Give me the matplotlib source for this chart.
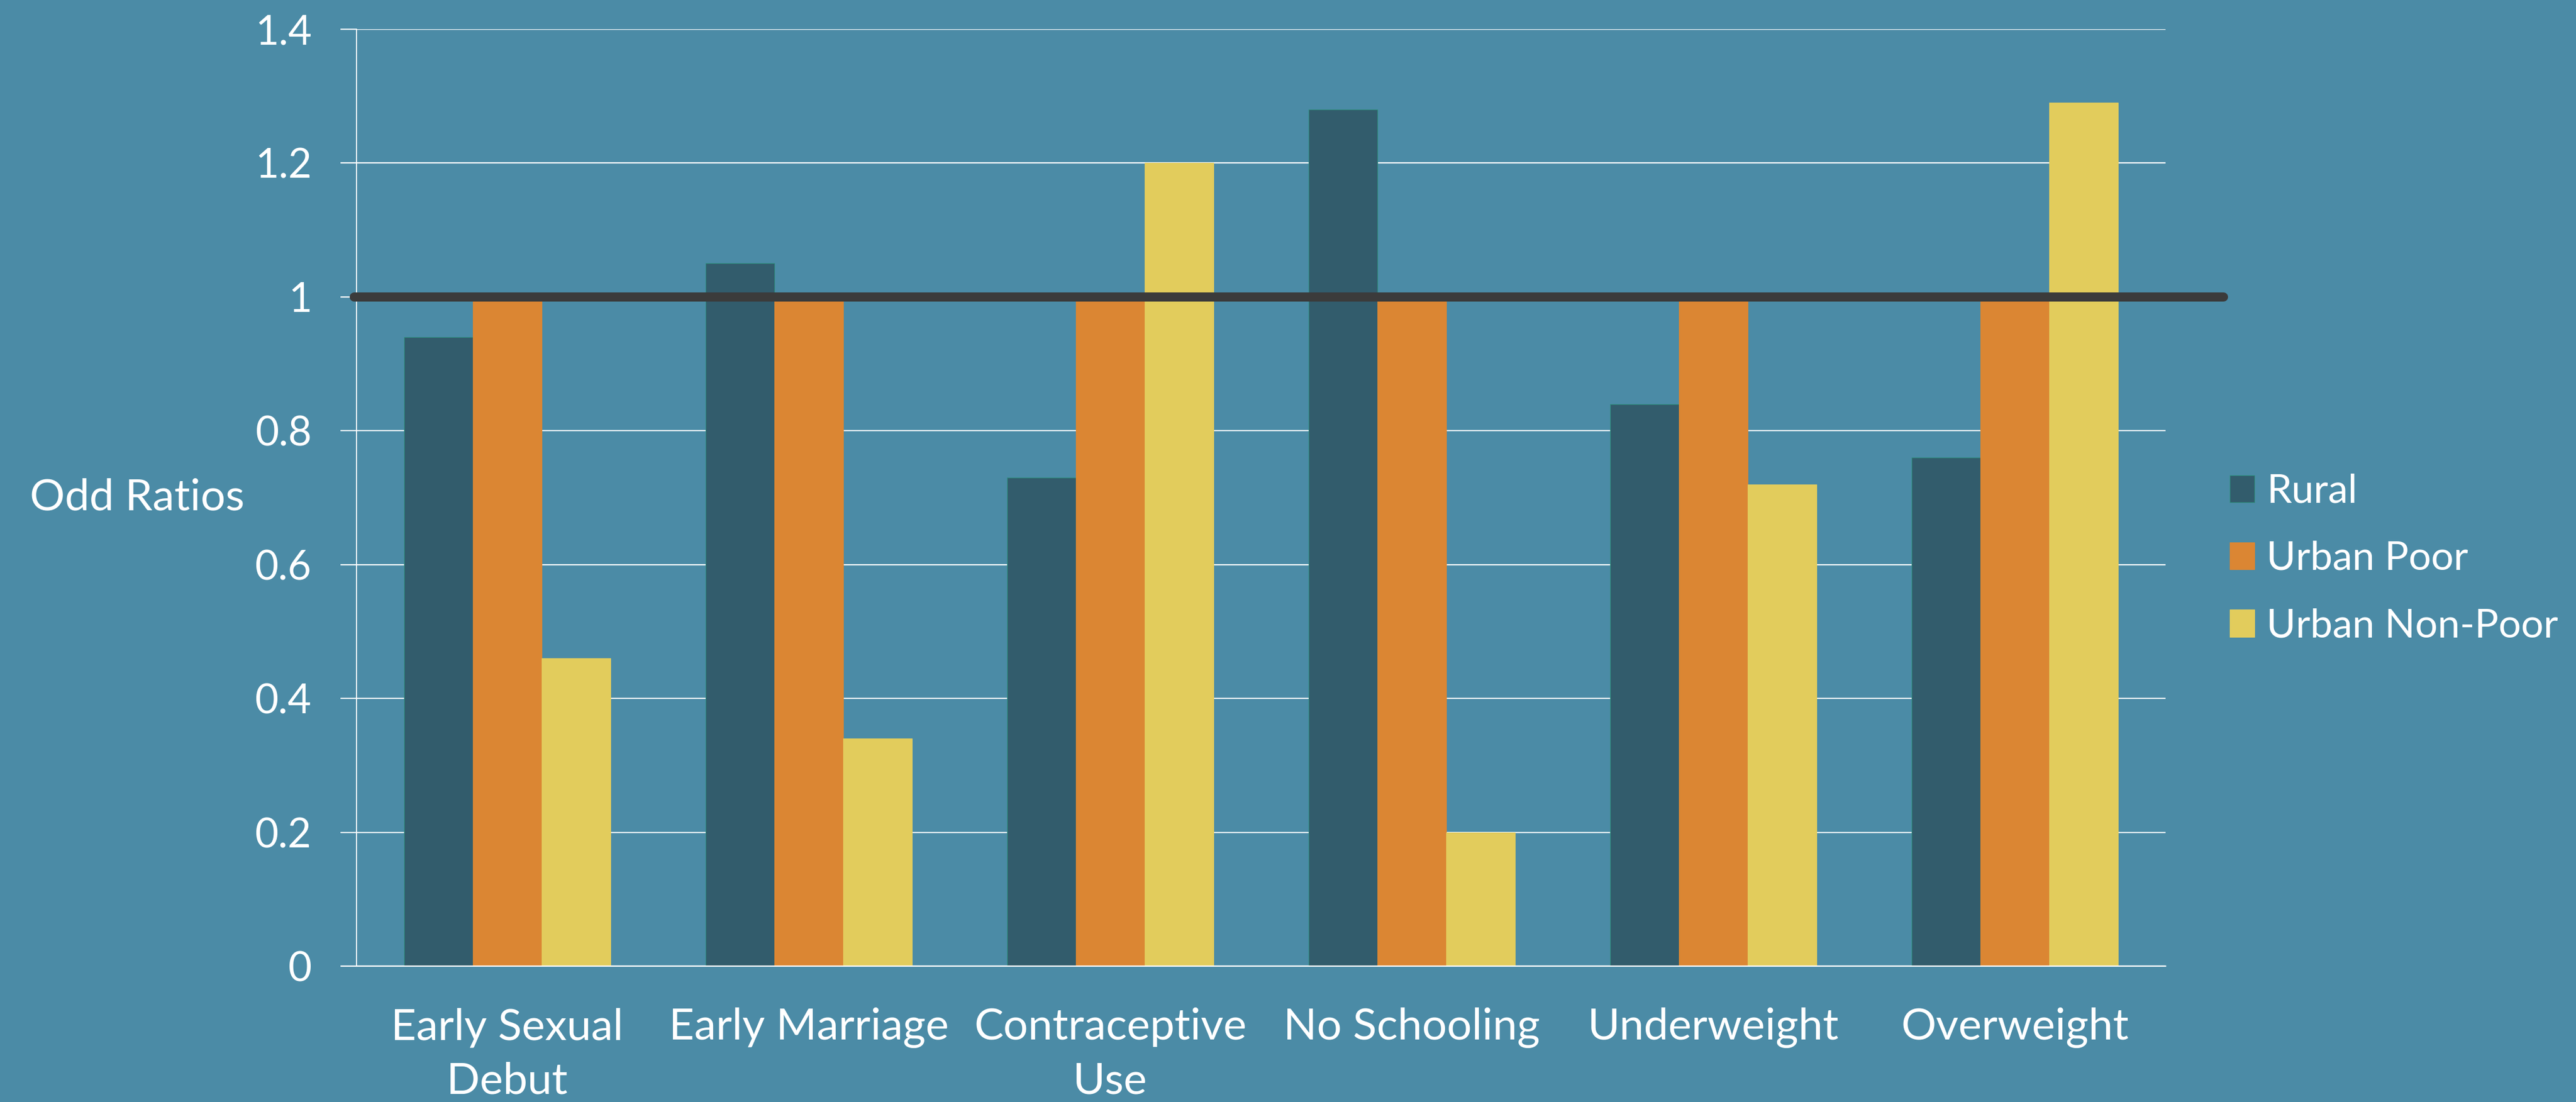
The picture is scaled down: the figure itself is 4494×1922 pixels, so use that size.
import numpy as np
import matplotlib
matplotlib.use("Agg")
import matplotlib.pyplot as plt

# ====== data ======
categories = ["Early Sexual\nDebut", "Early Marriage", "Contraceptive\nUse",
              "No Schooling", "Underweight", "Overweight"]
series_names = ["Rural", "Urban Poor", "Urban Non-Poor"]
rural = [0.94, 1.05, 0.73, 1.28, 0.84, 0.76]
urban_poor = [1.0, 1.0, 1.0, 1.0, 1.0, 1.0]
urban_non_poor = [0.46, 0.34, 1.2, 0.2, 0.72, 1.29]
y_ticks = [0, 0.2, 0.4, 0.6, 0.8, 1, 1.2, 1.4]
y_tick_labels = ["0", "0.2", "0.4", "0.6", "0.8", "1", "1.2", "1.4"]
reference_value = 1.0

BG = "#4B8BA6"
colors = ["#325C6C", "#DB8633", "#E2CC5C"]
plt.rcParams["font.family"] = ["Lato", "DejaVu Sans"]

fig = plt.figure(figsize=(44.94, 19.22), dpi=100, facecolor=BG)
ax = fig.add_axes([0.1384, 0.1233, 0.8407 - 0.1384, 0.9735 - 0.1233])
ax.set_facecolor(BG)

x = np.arange(len(categories))
w = 0.228
series = [rural, urban_poor, urban_non_poor]
for i, (vals, name, c) in enumerate(zip(series, series_names, colors)):
    edge = "#2E8C7C" if i == 0 else c
    ax.bar(x + (i - 1) * w, vals, width=w, color=c, label=name,
           edgecolor=edge, linewidth=0.8, zorder=2)

# reference line at odds ratio 1
ax.axhline(reference_value, xmin=-0.0013, xmax=1.032, color="#3B3B3B",
           linewidth=11.5, solid_capstyle="round", clip_on=False, zorder=5)

ax.set_xlim(-0.5, len(categories) - 0.5)
ax.set_ylim(0, 1.4)
ax.set_yticks(y_ticks)
ax.set_yticklabels(y_tick_labels)
ax.set_xticks(x)
ax.set_xticklabels(categories, linespacing=1.45)
ax.yaxis.grid(True, color="white", linewidth=1.6)
ax.set_axisbelow(True)

for s in ["top", "right"]:
    ax.spines[s].set_visible(False)
ax.spines["left"].set_color("white")
ax.spines["left"].set_linewidth(1.3)
ax.spines["bottom"].set_color("white")
ax.spines["bottom"].set_linewidth(1.6)

ax.tick_params(axis="y", colors="white", length=20, width=1.6, pad=36,
               labelsize=51)
ax.tick_params(axis="x", length=0, pad=52, labelsize=55, labelcolor="white")

ax.set_ylabel("Odd Ratios", rotation=0, color="white", fontsize=55,
              va="center", ha="left")
ax.yaxis.set_label_coords(-0.1806, 0.5)

ax.legend(loc="center left", bbox_to_anchor=(0.8595, 0.493),
          bbox_transform=fig.transFigure, frameon=False, fontsize=50,
          labelcolor="white", handlelength=0.62, handleheight=0.68,
          handletextpad=0.3, labelspacing=0.78, borderaxespad=0)

fig.savefig("out.png", dpi=100, facecolor=BG)
